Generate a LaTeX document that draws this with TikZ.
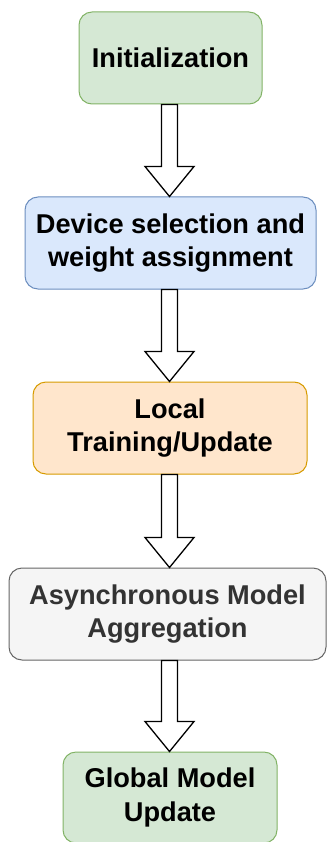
\documentclass[tikz,border=0pt]{standalone}
\usepackage{fontspec}
\setmainfont{Liberation Sans}
\usetikzlibrary{calc}
\definecolor{gfill}{HTML}{D5E8D4}\definecolor{gdraw}{HTML}{82B366}
\definecolor{bfill}{HTML}{DAE8FC}\definecolor{bdraw}{HTML}{6C8EBF}
\definecolor{ofill}{HTML}{FFE6CC}\definecolor{odraw}{HTML}{D79B00}
\definecolor{sfill}{HTML}{F5F5F5}\definecolor{sdraw}{HTML}{666666}
\definecolor{stext}{HTML}{333333}
\newcommand\flowarrow[2]{%
  \draw[blockarrow] let \p1=(#1.south), \p2=(#2.north) in
    (161.5pt,\y1) -- (161.5pt,\y2+30pt) -- (145pt,\y2+30pt) -- (169.5pt,\y2)
    -- (194pt,\y2+30pt) -- (177.5pt,\y2+30pt) -- (177.5pt,\y1) -- cycle;}
\begin{document}
\begin{tikzpicture}[x=1pt,y=-1pt,
  box/.style={rectangle, rounded corners=13pt, line width=1pt, inner sep=0pt,
    align=center, font=\fontsize{27.2}{33.5}\selectfont\bfseries},
  blockarrow/.style={draw=black, fill=white, line width=1.3pt, line join=miter}]
\useasboundingbox (0,0) rectangle (327,842);
\node[box, fill=gfill, draw=gdraw, minimum width=183pt, minimum height=92pt] (init) at (170.5,58) {Initialization};
\node[box, fill=bfill, draw=bdraw, minimum width=291pt, minimum height=92pt] (dev) at (170.5,243) {Device selection and\\weight assignment};
\node[box, fill=ofill, draw=odraw, minimum width=274pt, minimum height=92pt] (loc) at (170,428) {Local\\Training/Update};
\node[box, fill=sfill, draw=sdraw, text=stext, minimum width=317pt, minimum height=92pt] (agg) at (167.5,614) {Asynchronous Model\\Aggregation};
\node[box, fill=gfill, draw=gdraw, minimum width=214pt, minimum height=91pt] (glob) at (170,797.5) {Global Model\\Update};
\flowarrow{init}{dev}
\flowarrow{dev}{loc}
\flowarrow{loc}{agg}
\flowarrow{agg}{glob}
\end{tikzpicture}
\end{document}
